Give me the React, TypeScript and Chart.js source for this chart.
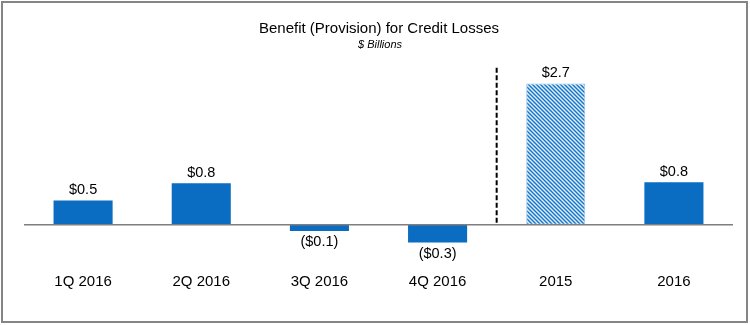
import React, { useEffect, useRef } from "react";
import { Chart, registerables } from "chart.js";

Chart.register(...registerables);

const categories = ["1Q 2016", "2Q 2016", "3Q 2016", "4Q 2016", "2015", "2016"];
const values = [0.46, 0.79, -0.12, -0.34, 2.7, 0.81];
const hatched = [false, false, false, false, true, false];
const titleText = "Benefit (Provision) for Credit Losses";
const subtitleText = "$ Billions";
const yMin = -0.6;
const yMax = 3.15;
const dividerTop = 3.0;

const BLUE = "#0A6DC2";
const FONT = "'Liberation Sans', Arial, sans-serif";

function fmt(v: number) {
  const s = "$" + Math.abs(v).toFixed(1);
  return v < 0 ? "(" + s + ")" : s;
}

function makePattern(): CanvasPattern | string {
  const c = document.createElement("canvas");
  c.width = 4;
  c.height = 4;
  const g = c.getContext("2d");
  if (!g) return BLUE;
  g.fillStyle = "#e3eef9";
  g.fillRect(0, 0, 4, 4);
  g.strokeStyle = "#1576c8";
  g.lineWidth = 1.4;
  g.beginPath();
  g.moveTo(-1, -1);
  g.lineTo(5, 5);
  g.moveTo(3, -1);
  g.lineTo(5, 1);
  g.moveTo(-1, 3);
  g.lineTo(1, 5);
  g.stroke();
  const p = g.createPattern(c, "repeat");
  return p || BLUE;
}

const overlayPlugin = {
  id: "overlay",
  afterDatasetsDraw(chart: any) {
    const { ctx, chartArea, scales } = chart;
    const x = scales.x;
    const y = scales.y;
    const y0 = y.getPixelForValue(0);
    ctx.save();
    // zero line
    ctx.strokeStyle = "#7f7f7f";
    ctx.lineWidth = 1.5;
    ctx.beginPath();
    ctx.moveTo(chartArea.left, y0);
    ctx.lineTo(chartArea.right, y0);
    ctx.stroke();
    // divider
    const xd = (x.getPixelForValue(3) + x.getPixelForValue(4)) / 2;
    ctx.strokeStyle = "#000000";
    ctx.lineWidth = 2;
    ctx.setLineDash([5, 2.5]);
    ctx.beginPath();
    ctx.moveTo(xd, y.getPixelForValue(dividerTop));
    ctx.lineTo(xd, y0);
    ctx.stroke();
    ctx.setLineDash([]);
    // value labels
    ctx.fillStyle = "#000000";
    ctx.font = "14.5px " + FONT;
    ctx.textAlign = "center";
    const meta = chart.getDatasetMeta(0);
    meta.data.forEach((bar: any, i: number) => {
      const v = values[i];
      if (v >= 0) {
        ctx.textBaseline = "bottom";
        ctx.fillText(fmt(v), bar.x, bar.y - 3);
      } else {
        ctx.textBaseline = "top";
        ctx.fillText(fmt(v), bar.x, bar.y + 4);
      }
    });
    // titles
    ctx.textBaseline = "middle";
    ctx.font = "15px " + FONT;
    ctx.fillText(titleText, 379, 29);
    ctx.font = "italic 11px " + FONT;
    ctx.fillText(subtitleText, 380, 45);
    ctx.restore();
  },
};

export default function App() {
  const ref = useRef<HTMLCanvasElement>(null);
  useEffect(() => {
    document.body.style.margin = "0";
    const canvas = ref.current;
    if (!canvas) return;
    const pattern = makePattern();
    const chart = new Chart(canvas, {
      type: "bar",
      data: {
        labels: categories,
        datasets: [
          {
            data: values,
            backgroundColor: hatched.map((h) => (h ? pattern : BLUE)) as any,
            borderColor: hatched.map((h) => (h ? "#9cc3e8" : BLUE)),
            borderWidth: hatched.map((h) => (h ? 1 : 0)),
            borderSkipped: false,
            categoryPercentage: 0.5,
            barPercentage: 1,
          },
        ],
      },
      options: {
        animation: false,
        responsive: false,
        maintainAspectRatio: false,
        layout: { padding: { left: 24, right: 17, top: 60, bottom: 25 } },
        plugins: { legend: { display: false }, tooltip: { enabled: false }, title: { display: false } },
        scales: {
          x: {
            grid: { display: false },
            border: { display: false },
            ticks: { color: "#000000", font: { family: FONT, size: 15 }, padding: 9, maxRotation: 0 },
          },
          y: { display: false, min: yMin, max: yMax },
        },
      },
      plugins: [overlayPlugin],
    });
    return () => chart.destroy();
  }, []);
  return (
    <div style={{ position: "relative", width: 750, height: 325, background: "#ffffff" }}>
      <canvas ref={ref} width={750} height={325} style={{ position: "absolute", left: 0, top: 0 }} />
      <div
        style={{
          position: "absolute",
          left: 1,
          top: 1,
          width: 747,
          height: 322,
          boxSizing: "border-box",
          border: "2px solid #858585",
          pointerEvents: "none",
        }}
      />
    </div>
  );
}
